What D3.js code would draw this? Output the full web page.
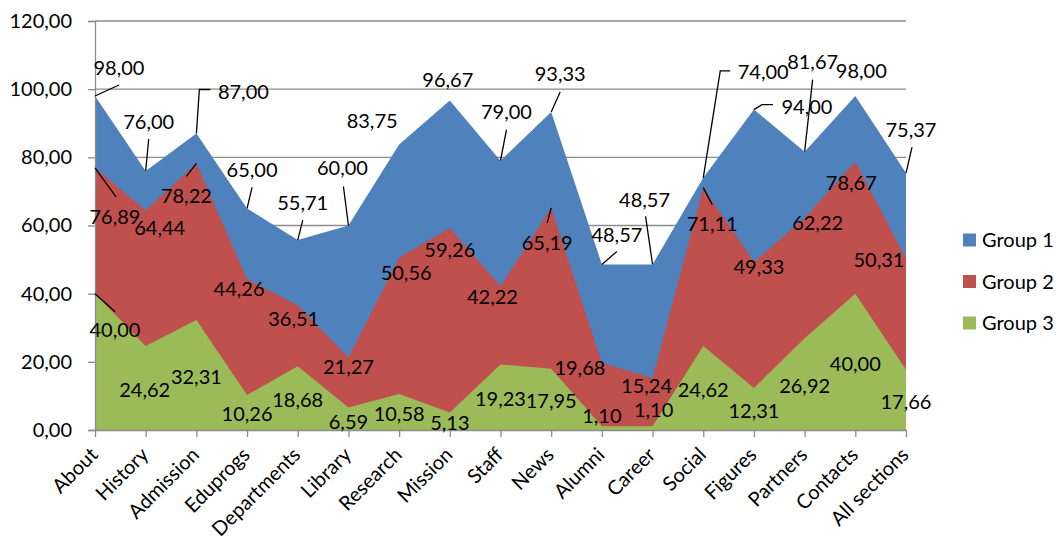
<!DOCTYPE html>
<html>
<head>
<meta charset="utf-8">
<script src="https://cdn.jsdelivr.net/npm/d3@7"></script>
<style>
  html, body { margin: 0; padding: 0; background: #fff; }
  svg { display: block; }
  text { font-family: Lato, "Open Sans", sans-serif; fill: #000; }
</style>
</head>
<body>
<svg id="chart" width="1061" height="548"></svg>
<script>
// Site sections and the three groups' scores
const categories = ["About", "History", "Admission", "Eduprogs", "Departments", "Library",
  "Research", "Mission", "Staff", "News", "Alumni", "Career", "Social", "Figures",
  "Partners", "Contacts", "All sections"];
const group1 = [98.00, 76.00, 87.00, 65.00, 55.71, 60.00, 83.75, 96.67, 79.00, 93.33,
  48.57, 48.57, 74.00, 94.00, 81.67, 98.00, 75.37];
const group2 = [76.89, 64.44, 78.22, 44.26, 36.51, 21.27, 50.56, 59.26, 42.22, 65.19,
  19.68, 15.24, 71.11, 49.33, 62.22, 78.67, 50.31];
const group3 = [40.00, 24.62, 32.31, 10.26, 18.68, 6.59, 10.58, 5.13, 19.23, 17.95,
  1.10, 1.10, 24.62, 12.31, 26.92, 40.00, 17.66];
const seriesNames = ["Group 1", "Group 2", "Group 3"];
const yTicks = [0, 20, 40, 60, 80, 100, 120];

// Value-label placement: pixel offset of each label centre from its point
const labelOffsets1 = [[24,-28],[3,-49],[47,-41],[5,-38],[5,-37],[-6,-58],[-27,-24],[-2,-21],
  [6,-49],[9,-38],[15,-29],[-8,-64],[60,-106],[53,-3],[8,-90],[6,-25],[5,-43]];
const labelOffsets2 = [[20,49],[14,18],[-10,33],[-8,10],[-4,13],[0,9],[7,15],[0,22],
  [-8,11],[-4,35],[-22,5],[-6,8],[9,36],[5,5],[13,5],[-4,21],[-27,1]];
const labelOffsets3 = [[20,36],[-1,44],[0,57],[0,19],[0,34],[0,14],[0,20],[0,10],
  [0,35],[0,32],[0,-10],[1,-16],[0,44],[0,23],[0,48],[0,70],[0,32]];
// Leader lines, as polylines starting at the point (offsets in pixels)
const leaders1 = [[[24,-11]], [[3,-32]], [[3,-44],[14,-44]], [[5,-21]], [[5,-20]], [[-5,-39]],
  null, null, [[6,-31]], [[9,-20]], [[15,-13]], [[-7,-48]], [[17,-107],[27,-107]],
  [[8,-5],[19,-5]], [[8,-72]], null, [[6,-26]]];
const leaders2 = [[[21,29]], null, [[-10,13]], null, null, null, null, null, null,
  [[-4,15]], null, null, [[9,17]], null, null, null, null];
const leaders3 = [[[20,18]], null, null, null, null, null, null, null, null,
  null, null, null, null, null, null, null, null];

const colors = ["#4F81BD", "#C0504D", "#9BBB59"];

const svg = d3.select("#chart");
const plotLeft = 95, plotRight = 906, plotTop = 21, plotBottom = 430;

const x = d3.scalePoint().domain(categories).range([plotLeft, plotRight]);
const y = d3.scaleLinear().domain([0, 120]).range([plotBottom, plotTop]);

const locale = d3.formatLocale({ decimal: ",", thousands: " ", grouping: [3], currency: ["", ""] });
const fmt = locale.format(".2f");

// Horizontal gridlines
svg.append("g")
  .selectAll("line")
  .data(yTicks)
  .join("line")
  .attr("x1", plotLeft).attr("x2", plotRight)
  .attr("y1", d => y(d)).attr("y2", d => y(d))
  .attr("stroke", "#8c8c8c").attr("stroke-width", 1.3);

// Overlapping areas, Group 1 at the back
const series = [group1, group2, group3];
const area = d3.area()
  .x((d, i) => x(categories[i]))
  .y0(y(0))
  .y1(d => y(d));

svg.append("g")
  .selectAll("path")
  .data(series)
  .join("path")
  .attr("d", d => area(d))
  .attr("fill", (d, i) => colors[i]);

// Axes
const yAxis = d3.axisLeft(y).tickValues(yTicks).tickSize(7).tickPadding(16).tickFormat(fmt);
const gy = svg.append("g").attr("transform", `translate(${plotLeft},0)`).call(yAxis);
gy.select(".domain").attr("stroke", "#8c8c8c").attr("stroke-width", 1.3);
gy.selectAll(".tick line").attr("stroke", "#8c8c8c").attr("stroke-width", 1.3);
gy.selectAll(".tick text").attr("font-size", 20).attr("font-family", "Lato, sans-serif");

const xAxis = d3.axisBottom(x).tickSize(7).tickSizeOuter(0).tickFormat("");
const gx = svg.append("g").attr("transform", `translate(0,${plotBottom})`).call(xAxis);
gx.select(".domain").attr("stroke", "#8c8c8c").attr("stroke-width", 1.3);
gx.selectAll(".tick line").attr("stroke", "#8c8c8c").attr("stroke-width", 1.3);

// Rotated category labels
svg.append("g")
  .selectAll("text")
  .data(categories)
  .join("text")
  .attr("transform", d => `translate(${x(d) + 4},${plotBottom + 26}) rotate(-45)`)
  .attr("text-anchor", "end")
  .attr("font-size", 20)
  .text(d => d);

// Leader lines and value labels
const offsets = [labelOffsets1, labelOffsets2, labelOffsets3];
const leaders = [leaders1, leaders2, leaders3];
const labelLayer = svg.append("g");
series.forEach((vals, s) => {
  vals.forEach((v, i) => {
    const px = x(categories[i]), py = y(v);
    const lead = leaders[s][i];
    if (lead) {
      const pts = [[px, py]].concat(lead.map(p => [px + p[0], py + p[1]]));
      labelLayer.append("path")
        .attr("d", d3.line()(pts))
        .attr("fill", "none")
        .attr("stroke", "#000")
        .attr("stroke-width", 1.3);
    }
    const o = offsets[s][i];
    labelLayer.append("text")
      .attr("x", px + o[0])
      .attr("y", py + o[1])
      .attr("dy", "0.35em")
      .attr("text-anchor", "middle")
      .attr("font-size", 20)
      .text(fmt(v));
  });
});

// Legend
const legend = svg.append("g").attr("transform", "translate(963,240)");
const items = legend.selectAll("g")
  .data(seriesNames)
  .join("g")
  .attr("transform", (d, i) => `translate(0,${i * 41.5})`);
items.append("rect")
  .attr("x", 0).attr("y", -6.5)
  .attr("width", 13).attr("height", 13)
  .attr("fill", (d, i) => colors[i]);
items.append("text")
  .attr("x", 19).attr("dy", "0.35em")
  .attr("font-size", 20)
  .text(d => d);
</script>
</body>
</html>
